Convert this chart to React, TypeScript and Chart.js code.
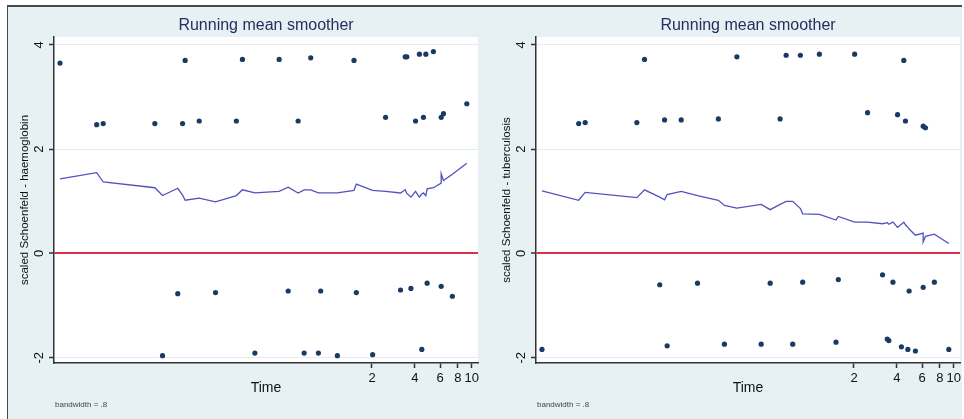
import React, { useEffect, useRef } from "react";
import { Chart, registerables } from "chart.js";

Chart.register(...registerables);

// Event times (shared by both panels)
const times = [
  0.013, 0.0235, 0.0261, 0.0601, 0.068, 0.087, 0.094, 0.098, 0.123, 0.16,
  0.224, 0.247, 0.302, 0.447, 0.517, 0.607, 0.669, 0.744, 0.842, 0.874,
  1.144, 1.496, 1.553, 2.02, 2.49, 3.17, 3.42, 3.51, 3.75, 4.04,
  4.3, 4.47, 4.59, 4.77, 4.87, 5.39, 6.11, 6.11, 6.34, 7.32, 9.24,
];

// Scaled Schoenfeld residuals - haemoglobin
const hbResiduals = [
  3.65, 2.47, 2.49, 2.49, -1.96, -0.77, 2.49, 3.7, 2.54, -0.75,
  2.54, 3.72, -1.91, 3.72, -0.72, 2.54, -1.91, 3.75, -1.91, -0.72,
  -1.96, 3.7, -0.75, -1.94, 2.61, -0.7, 3.77, 3.77, -0.67, 2.54,
  3.82, -1.84, 2.61, 3.82, -0.57, 3.87, 2.61, -0.63, 2.68, -0.82, 2.87,
];

// Running mean smoother - haemoglobin
const hbSmooth = [
  1.43, 1.55, 1.37, 1.26, 1.11, 1.25, 1.12, 1.02, 1.06, 0.99,
  1.11, 1.22, 1.16, 1.19, 1.27, 1.16, 1.22, 1.22, 1.16, 1.16,
  1.16, 1.21, 1.33, 1.21, 1.19, 1.16, 1.22, 1.15, 1.08, 1.19,
  1.08, 1.14, 1.16, 1.11, 1.24, 1.26, 1.35, 1.53, 1.4, 1.52, 1.73,
];

// Scaled Schoenfeld residuals - tuberculosis
const tbResiduals = [
  -1.84, 2.49, 2.51, 2.51, 3.72, -0.6, 2.56, -1.77, 2.56, -0.57,
  2.58, -1.74, 3.77, -1.74, -0.57, 2.58, 3.8, -1.74, 3.8, -0.55,
  3.82, -1.7, -0.5, 3.82, 2.7, -0.41, -1.64, -1.67, -0.55, 2.66,
  -1.79, 3.7, 2.54, -1.84, -0.72, -1.87, 2.44, -0.65, 2.41, -0.55, -1.84,
];

// Running mean smoother - tuberculosis
const tbSmooth = [
  1.2, 1.02, 1.17, 1.07, 1.22, 1.08, 1.03, 1.13, 1.19, 1.11,
  1.02, 0.92, 0.87, 0.94, 0.84, 0.94, 1.0, 1.0, 0.86, 0.76,
  0.75, 0.64, 0.71, 0.6, 0.6, 0.57, 0.59, 0.56, 0.6, 0.5,
  0.56, 0.6, 0.55, 0.5, 0.47, 0.35, 0.39, 0.22, 0.33, 0.37, 0.19,
];

const yTicks = [-2, 0, 2, 4];
const xTicks = [2, 4, 6, 8, 10];
const xMin = 0.0118;
const xMax = 11.07;
const yMin = -2.1;
const yMax = 4.15;

const titleText = "Running mean smoother";
const xTitle = "Time";
const noteText = "bandwidth = .8";
const hbLabel = "scaled Schoenfeld - haemoglobin";
const tbLabel = "scaled Schoenfeld - tuberculosis";

const FONT = '"Liberation Sans", Arial, Helvetica, sans-serif';

const panelDecor = {
  id: "panelDecor",
  beforeDraw(chart: any) {
    const { ctx, chartArea } = chart;
    ctx.save();
    ctx.fillStyle = "#ffffff";
    ctx.fillRect(
      chartArea.left,
      chartArea.top,
      chartArea.right - chartArea.left,
      chartArea.bottom - chartArea.top
    );
    ctx.restore();
  },
  afterDraw(chart: any, _args: any, opts: any) {
    const { ctx, chartArea } = chart;
    ctx.save();
    ctx.fillStyle = "#22305f";
    ctx.font = `16px ${FONT}`;
    ctx.textAlign = "center";
    ctx.textBaseline = "alphabetic";
    ctx.fillText(opts.title, (chartArea.left + chartArea.right) / 2, chartArea.top - 7);
    ctx.fillStyle = "#444444";
    ctx.font = `8px ${FONT}`;
    ctx.textAlign = "left";
    ctx.fillText(opts.note, chartArea.left + 1, chartArea.bottom + 44);
    ctx.restore();
  },
};

type PanelProps = {
  left: number;
  yLabel: string;
  residuals: number[];
  smooth: number[];
};

function Panel({ left, yLabel, residuals, smooth }: PanelProps) {
  const ref = useRef<HTMLCanvasElement>(null);

  useEffect(() => {
    const canvas = ref.current;
    if (!canvas) return;
    const chart = new Chart(canvas, {
      type: "scatter",
      data: {
        datasets: [
          {
            type: "line",
            data: times.map((t, i) => ({ x: t, y: smooth[i] })),
            borderColor: "#5252be",
            borderWidth: 1.3,
            pointRadius: 0,
            fill: false,
            tension: 0,
          } as any,
          {
            type: "scatter",
            data: times.map((t, i) => ({ x: t, y: residuals[i] })),
            pointRadius: 2.6,
            pointStyle: "circle",
            backgroundColor: "#1a3a66",
            borderWidth: 0,
          },
        ],
      },
      options: {
        animation: false,
        responsive: false,
        maintainAspectRatio: false,
        layout: { padding: { top: 30, right: 3, left: 0, bottom: 0 } },
        plugins: {
          legend: { display: false },
          tooltip: { enabled: false },
          title: { display: false },
          panelDecor: { title: titleText, note: noteText },
        } as any,
        scales: {
          x: {
            type: "logarithmic",
            min: xMin,
            max: xMax,
            afterBuildTicks: (s: any) => {
              s.ticks = xTicks.map((v) => ({ value: v }));
            },
            afterFit: (s: any) => {
              s.height = 56;
            },
            grid: {
              drawOnChartArea: false,
              tickLength: 5,
              tickColor: "#333333",
              tickWidth: 1.5,
            },
            border: { color: "#333333", width: 1.5 },
            ticks: {
              color: "#111111",
              font: { family: FONT, size: 13 },
              padding: 3,
              maxRotation: 0,
              minRotation: 0,
              autoSkip: false,
              callback: (v: any) => String(v),
            },
            title: {
              display: true,
              text: xTitle,
              color: "#111111",
              font: { family: FONT, size: 14 },
              padding: { top: 0, bottom: 22 },
            },
          },
          y: {
            min: yMin,
            max: yMax,
            afterBuildTicks: (s: any) => {
              s.ticks = yTicks.map((v) => ({ value: v }));
            },
            afterFit: (s: any) => {
              s.width = 46;
            },
            grid: {
              color: (c: any) => (c.tick && c.tick.value === 0 ? "#dc2f48" : "#e3ecef"),
              lineWidth: (c: any) => (c.tick && c.tick.value === 0 ? 2 : 1),
              tickLength: 5,
              tickColor: "#333333",
              tickWidth: 1.5,
            },
            border: { color: "#333333", width: 1.5 },
            ticks: {
              color: "#111111",
              font: { family: FONT, size: 13 },
              minRotation: 90,
              maxRotation: 90,
              crossAlign: "center",
              padding: 4,
              autoSkip: false,
              callback: (v: any) => String(v),
            },
            title: {
              display: true,
              text: yLabel,
              color: "#111111",
              font: { family: FONT, size: 11.5 },
              padding: { top: 10, bottom: 0 },
            },
          },
        },
      },
      plugins: [panelDecor],
    } as any);
    return () => chart.destroy();
  }, []);

  return (
    <canvas
      ref={ref}
      width={474}
      height={412}
      style={{ position: "absolute", left, top: 7, width: 474, height: 412 }}
    />
  );
}

export default function App() {
  return (
    <div
      style={{
        position: "fixed",
        left: 0,
        top: 0,
        width: 964,
        height: 419,
        background: "#ffffff",
        overflow: "hidden",
      }}
    >
      <div
        style={{
          position: "absolute",
          left: 7,
          top: 5,
          width: 955,
          height: 414,
          boxSizing: "border-box",
          background: "#e7f0f3",
          borderTop: "2px solid #4a4a4a",
          borderLeft: "1px solid #4a4a4a",
        }}
      />
      <Panel left={8} yLabel={hbLabel} residuals={hbResiduals} smooth={hbSmooth} />
      <Panel left={490} yLabel={tbLabel} residuals={tbResiduals} smooth={tbSmooth} />
    </div>
  );
}
